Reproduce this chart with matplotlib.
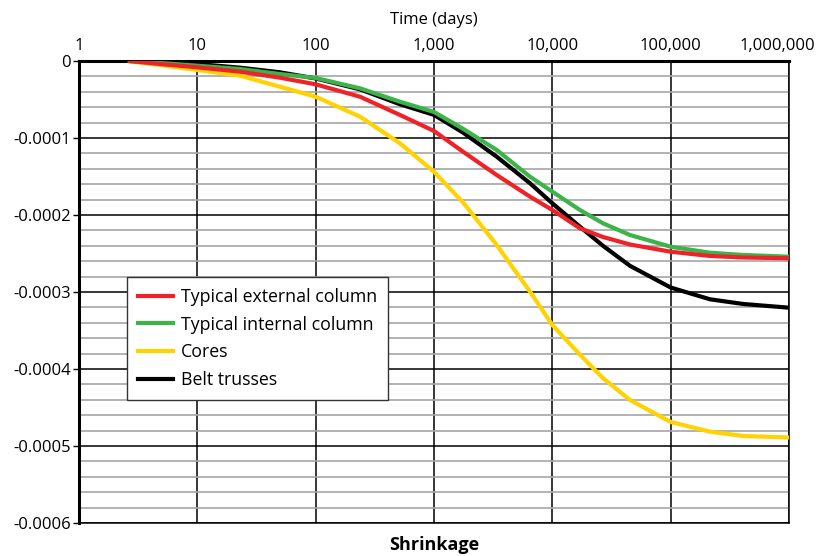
import numpy as np
import matplotlib
matplotlib.use("Agg")
import matplotlib.pyplot as plt
import matplotlib.transforms as mtrans
from matplotlib.ticker import FixedLocator, FixedFormatter

plt.rcParams['font.family'] = ['Open Sans', 'DejaVu Sans']
plt.rcParams['axes.unicode_minus'] = False

# time in days
days = [2.7, 4.8, 10, 23, 50, 100, 237, 516, 1000, 1760, 3390, 6480, 10000,
        17100, 26800, 45300, 100000, 215000, 411000, 1000000]

# shrinkage strain in units of 1e-4 (plotted as negative)
external_col = [0, 0.039, 0.082, 0.139, 0.217, 0.303, 0.464, 0.701, 0.909, 1.178,
                1.481, 1.762, 1.935, 2.173, 2.286, 2.383, 2.477, 2.532, 2.552, 2.562]
internal_col = [0, 0.026, 0.061, 0.104, 0.169, 0.221, 0.355, 0.529, 0.662, 0.88,
                1.156, 1.503, 1.697, 1.935, 2.108, 2.260, 2.412, 2.490, 2.519, 2.542]
cores = [0.006, 0.052, 0.117, 0.191, 0.334, 0.464, 0.723, 1.069, 1.438, 1.836,
         2.390, 2.996, 3.429, 3.814, 4.119, 4.403, 4.688, 4.814, 4.870, 4.890]
belt_trusses = [0, 0.009, 0.039, 0.087, 0.147, 0.227, 0.368, 0.562, 0.70, 0.93,
                1.243, 1.588, 1.848, 2.152, 2.40, 2.66, 2.942, 3.095, 3.156, 3.204]

x_ticks = [1, 10, 100, 1000, 10000, 100000, 1000000]
x_labels = ["1", "10", "100", "1,000", "10,000", "100,000", "1,000,000"]
y_ticks = [0, -0.0001, -0.0002, -0.0003, -0.0004, -0.0005, -0.0006]
y_labels = ["0", "-0.0001", "-0.0002", "-0.0003", "-0.0004", "-0.0005", "-0.0006"]

fig = plt.figure(figsize=(8.2, 5.56), dpi=100)
ax = fig.add_axes([0.0963, 0.0594, 0.8659, 0.8309])

to_strain = lambda v: -np.array(v) * 1e-4
ax.plot(days, to_strain(cores), color="#ffd200", lw=3, label="Cores", zorder=3)
ax.plot(days, to_strain(belt_trusses), color="#000000", lw=3, label="Belt trusses", zorder=4)
ax.plot(days, to_strain(internal_col), color="#3cb44a", lw=3, label="Typical internal column", zorder=5)
ax.plot(days, to_strain(external_col), color="#ee2229", lw=3, label="Typical external column", zorder=6)

ax.set_xscale("log")
ax.set_xlim(1, 1e6)
ax.set_ylim(-0.0006, 0)

ax.xaxis.set_major_locator(FixedLocator(x_ticks))
ax.xaxis.set_major_formatter(FixedFormatter(x_labels))
ax.xaxis.set_minor_locator(FixedLocator([]))
ax.xaxis.tick_top()
ax.xaxis.set_label_position("top")
ax.tick_params(axis="x", length=0, pad=5, labelsize=12)

ax.yaxis.set_major_locator(FixedLocator(y_ticks))
ax.yaxis.set_major_formatter(FixedFormatter(y_labels))
ax.yaxis.set_minor_locator(FixedLocator(np.arange(-0.0006, 0.00001, 0.00002)))
ax.tick_params(axis="y", which="major", length=4, width=1, pad=2, labelsize=12)
ax.tick_params(axis="y", which="minor", length=0)

ax.grid(True, axis="y", which="minor", color="#a6a6a6", lw=1.2, zorder=1)
ax.grid(True, axis="y", which="major", color="black", lw=1.1, zorder=2)
ax.grid(True, axis="x", which="major", color="black", lw=1.1, zorder=2)

for side in ["left", "top"]:
    ax.spines[side].set_linewidth(2.2)
for side in ["right", "bottom"]:
    ax.spines[side].set_linewidth(1.1)

# last top label is nudged left so it stays inside the figure
fig.canvas.draw()
last = ax.xaxis.get_ticklabels(which="major")[-1]
last.set_transform(last.get_transform() +
                   mtrans.ScaledTranslation(-12 / 100, 0, fig.dpi_scale_trans))

ax.set_xlabel("Time (days)", fontsize=12, labelpad=10)
fig.text(0.529, 0.02, "Shrinkage", ha="center", va="center",
         fontsize=13, fontweight="bold")

handles, labels = ax.get_legend_handles_labels()
order = [3, 2, 0, 1]
leg = ax.legend([handles[i] for i in order], [labels[i] for i in order],
                loc="upper left", bbox_to_anchor=(0.0676, 0.532), borderaxespad=0,
                fontsize=12.8, frameon=True, fancybox=False, edgecolor="#333333",
                framealpha=1, handlelength=2.0, handletextpad=0.45,
                labelspacing=0.55, borderpad=0.6)
leg.get_frame().set_linewidth(1.0)

fig.savefig("out.png", dpi=100)
